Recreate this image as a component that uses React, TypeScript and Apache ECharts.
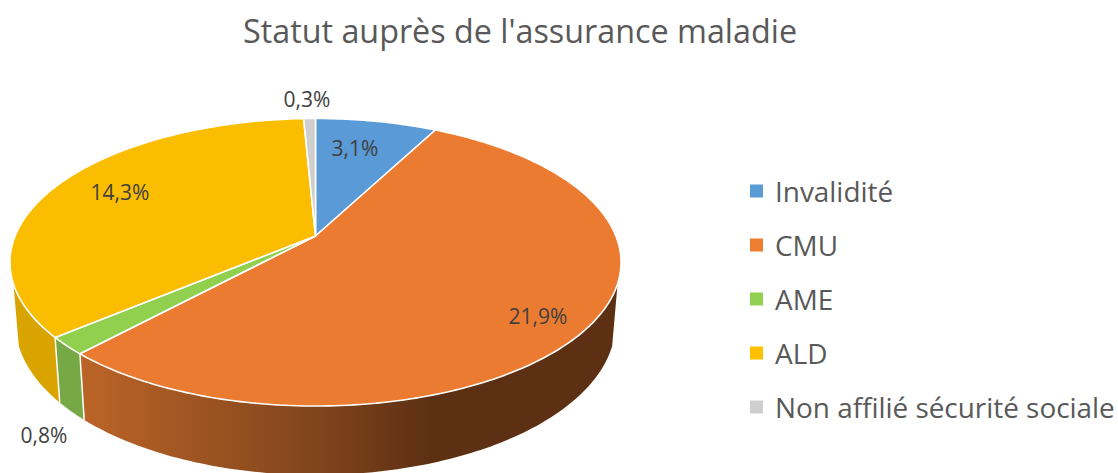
import React, { useEffect, useRef } from "react";
import * as echarts from "echarts";

const titleText = "Statut auprès de l'assurance maladie";
const categories = ["Invalidité", "CMU", "AME", "ALD", "Non affilié sécurité sociale"];
const values = [3.1, 21.9, 0.8, 14.3, 0.3];

const topColors = ["#5A9AD6", "#EB7B31", "#91D04E", "#FBBD00", "#CFCFCF"];
const legendColors = ["#5B9BD5", "#ED7D31", "#92D050", "#FFC000", "#CFCFCF"];
const wallColors = ["#4A7FB0", null, "#76A845", "#D9A400", "#A8A8A8"];
const labelPos: [number, number][] = [
  [355, 148],
  [538, 316],
  [44, 435],
  [120, 192],
  [307, 99],
];

const FONT = "'Open Sans', sans-serif";
const total = values.reduce((a, b) => a + b, 0);
const starts = values.map((_, i) => values.slice(0, i).reduce((a, b) => a + b, 0));
const toRad = (share: number) => (share / total) * Math.PI * 2;

const P = 0.1826;
const TOP = { x: 315.5, y: 236, a: 300.4, b: 139 };
const BOTTOM = { x: 315.5, y: 295.7, a: 295, b: 146.5 };
const WALL_FROM = (108.9 * Math.PI) / 180;
const WALL_TO = (251.1 * Math.PI) / 180;

function project(g: typeof TOP, t: number, r = 1): [number, number] {
  const u = Math.sin(t) * r;
  const s = -Math.cos(t) * r;
  const w = 1 - P * s;
  return [g.x + (g.a * u) / w, g.y + (g.b * s) / w];
}

function arc(g: typeof TOP, a: number, b: number): [number, number][] {
  const n = Math.max(2, Math.ceil(((b - a) * 180) / Math.PI));
  const pts: [number, number][] = [];
  for (let i = 0; i <= n; i++) pts.push(project(g, a + ((b - a) * i) / n));
  return pts;
}

function makeRender(index: number) {
  return (_params: any, api: any) => {
    const a = toRad(starts[index]);
    const b = a + toRad(api.value(0));
    const children: any[] = [];

    const wa = Math.max(a, WALL_FROM);
    const wb = Math.min(b, WALL_TO);
    if (wb > wa) {
      const fill =
        wallColors[index] ??
        new echarts.graphic.LinearGradient(0, 0, 1, 0, [
          { offset: 0, color: "#BC6427" },
          { offset: 0.44, color: "#80451C" },
          { offset: 0.65, color: "#5E3013" },
          { offset: 1, color: "#5E3013" },
        ]);
      children.push({
        type: "polygon",
        z2: 1,
        shape: { points: [...arc(TOP, wa, wb), ...arc(BOTTOM, wa, wb).reverse()] },
        style: { fill },
      });
      if (b < WALL_TO) {
        const p0 = project(TOP, b);
        const p1 = project(BOTTOM, b);
        children.push({
          type: "line",
          z2: 2,
          shape: { x1: p0[0], y1: p0[1], x2: p1[0], y2: p1[1] },
          style: { stroke: "#FFFFFF", lineWidth: 1.5 },
        });
      }
    }

    children.push({
      type: "polygon",
      z2: 3,
      shape: { points: [[TOP.x, TOP.y], ...arc(TOP, a, b)] },
      style: { fill: topColors[index], stroke: "#FFFFFF", lineWidth: 1.6, lineJoin: "round" },
    });

    children.push({
      type: "text",
      z2: 10,
      style: {
        text: api.value(0).toFixed(1).replace(".", ",") + "%",
        x: labelPos[index][0],
        y: labelPos[index][1],
        align: "center",
        verticalAlign: "middle",
        fill: "#404040",
        fontSize: 21,
        fontFamily: FONT,
      },
    });
    return { type: "group", children };
  };
}

export default function App() {
  const ref = useRef<HTMLDivElement>(null);
  useEffect(() => {
    document.body.style.margin = "0";
    const chart = echarts.init(ref.current!, undefined, { renderer: "svg" });
    chart.setOption({
      animation: false,
      backgroundColor: "#FFFFFF",
      title: {
        text: titleText,
        left: 515,
        top: 9,
        textAlign: "center",
        textStyle: { color: "#595959", fontSize: 32.3, fontWeight: "normal", fontFamily: FONT },
      },
      legend: {
        orient: "vertical",
        left: 750,
        top: 171,
        padding: 0,
        itemWidth: 13,
        itemHeight: 13,
        itemGap: 14,
        icon: "rect",
        data: categories,
        textStyle: { color: "#595959", fontSize: 27.9, fontFamily: FONT, lineHeight: 40, padding: [0, 0, 0, 7] },
      },
      series: categories.map((name, i) => ({
        type: "custom",
        name,
        coordinateSystem: "none",
        silent: true,
        itemStyle: { color: legendColors[i] },
        data: [[values[i]]],
        renderItem: makeRender(i),
      })),
    });
    return () => chart.dispose();
  }, []);
  return <div ref={ref} style={{ width: 1118, height: 473 }} />;
}
